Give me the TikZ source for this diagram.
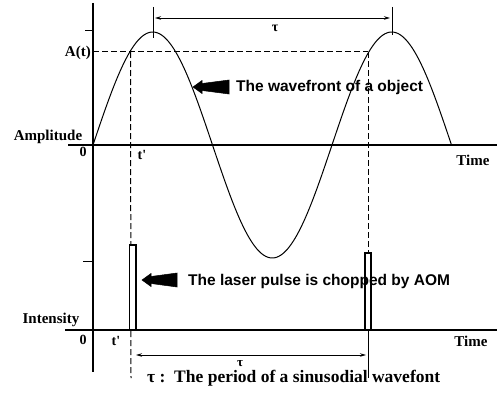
\documentclass[tikz,border=0pt]{standalone}
\usepackage{fontspec}
\setmainfont{Liberation Serif}
\newfontfamily\sansb{Liberation Sans}
\usetikzlibrary{arrows.meta}
\tikzset{
  lbl/.style={inner sep=0pt, font=\bfseries\fontsize{15}{15}\selectfont},
  slbl/.style={inner sep=0pt, font=\sansb\bfseries\fontsize{15.5}{16}\selectfont},
  axis/.style={line width=1.4pt},
  dashline/.style={line width=1pt, dash pattern=on 6pt off 3pt},
  dimarrow/.style={line width=0.9pt, {Stealth[length=6pt,width=3.5pt]}-{Stealth[length=6pt,width=3.5pt]}},
  pulse/.style={line width=1.3pt, fill=white},
  bigarrow/.style={fill=black, draw=black, line width=0.5pt}
}
\begin{document}
\begin{tikzpicture}[x=1pt,y=-1pt]
\useasboundingbox (0,0) rectangle (500,396);
% axes
\coordinate (vtop) at (93,3);
\coordinate (vbot) at (93,372);
\draw[axis] (vtop) -- (vbot);
\coordinate (a1l) at (68,145);
\coordinate (a1r) at (497,145);
\draw[axis] (a1l) -- (a1r);
\coordinate (a2l) at (65,330);
\coordinate (a2r) at (497,330);
\draw[axis] (a2l) -- (a2r);
% ticks on vertical axis
\draw[line width=1pt] (85,31) -- (93,31);
\draw[line width=1pt] (83,261) -- (93,261);
% sine wave
\draw[line width=1pt] plot[domain=0:540, samples=200] ({93+\x/360*239}, {145-113*sin(\x)});
% dashed A(t) line and t' verticals
\coordinate (p1) at (130.5,52);
\coordinate (p2) at (368,52);
\coordinate (yaxA) at (93,52);
\draw[dashline] (yaxA) -- (p2);
\coordinate (p1b) at (131,378);
\draw[dashline] (p1) -- (p1b);
\coordinate (p2m) at (368,330);
\coordinate (p2b) at (368,378);
\draw[dashline] (p2) -- (p2m);
\draw[line width=1pt] (p2m) -- (p2b);
% peak ticks
\draw[line width=1pt] (153,7) -- (153,38);
\draw[line width=1pt] (392,7) -- (392,35);
% top dimension arrow
\coordinate (d1l) at (155,18);
\coordinate (d1r) at (390,18);
\draw[dimarrow] (d1l) -- (d1r);
\node[lbl, font=\bfseries\fontsize{14}{14}\selectfont] (tau1) at (275,28) {τ};
% pulses
\draw[pulse] (129.5,245) rectangle (136,330);
\draw[pulse] (365,253) rectangle (371,330);
% bottom dimension arrow
\coordinate (d2l) at (136,355);
\coordinate (d2r) at (366,355);
\draw[dimarrow] (d2l) -- (d2r);
\node[lbl, font=\bfseries\fontsize{13}{13}\selectfont] (tau2) at (240,364) {τ};
% big black arrows
\fill[bigarrow] (193,87) -- (202,80.5) -- (202,83.5) -- (229,80) -- (229,94) -- (202,90.5) -- (202,93.5) -- cycle;
\fill[bigarrow] (142,280) -- (151,273.5) -- (151,276.5) -- (177,273) -- (177,287) -- (151,283.5) -- (151,286.5) -- cycle;
% labels
\node[lbl, anchor=east] (At) at (91,53) {A(t)};
\node[lbl] (amp) at (48,137) {Amplitude};
\node[lbl, font=\bfseries\fontsize{14}{14}\selectfont] (z1) at (83,152) {0};
\node[lbl, font=\bfseries\fontsize{14}{14}\selectfont] (tp1) at (142,155) {t\textquotesingle};
\node[lbl, font=\bfseries\fontsize{15}{15}\selectfont] (time1) at (473,160) {Time};
\node[slbl, anchor=west] (wave) at (236,87) {The wavefront of a object};
\node[slbl, anchor=west] (laser) at (188,281) {The laser pulse is chopped by AOM};
\node[lbl] (int) at (51,320) {Intensity};
\node[lbl, font=\bfseries\fontsize{14}{14}\selectfont] (z2) at (83,340) {0};
\node[lbl, font=\bfseries\fontsize{14}{14}\selectfont] (tp2) at (116,341) {t\textquotesingle};
\node[lbl, font=\bfseries\fontsize{15}{15}\selectfont] (time2) at (471,341) {Time};
\node[lbl, anchor=base west, font=\bfseries\fontsize{17.5}{18}\selectfont] (cap) at (147,382) {τ :\ \ The period of a sinusodial wavefont};
\end{tikzpicture}
\end{document}
